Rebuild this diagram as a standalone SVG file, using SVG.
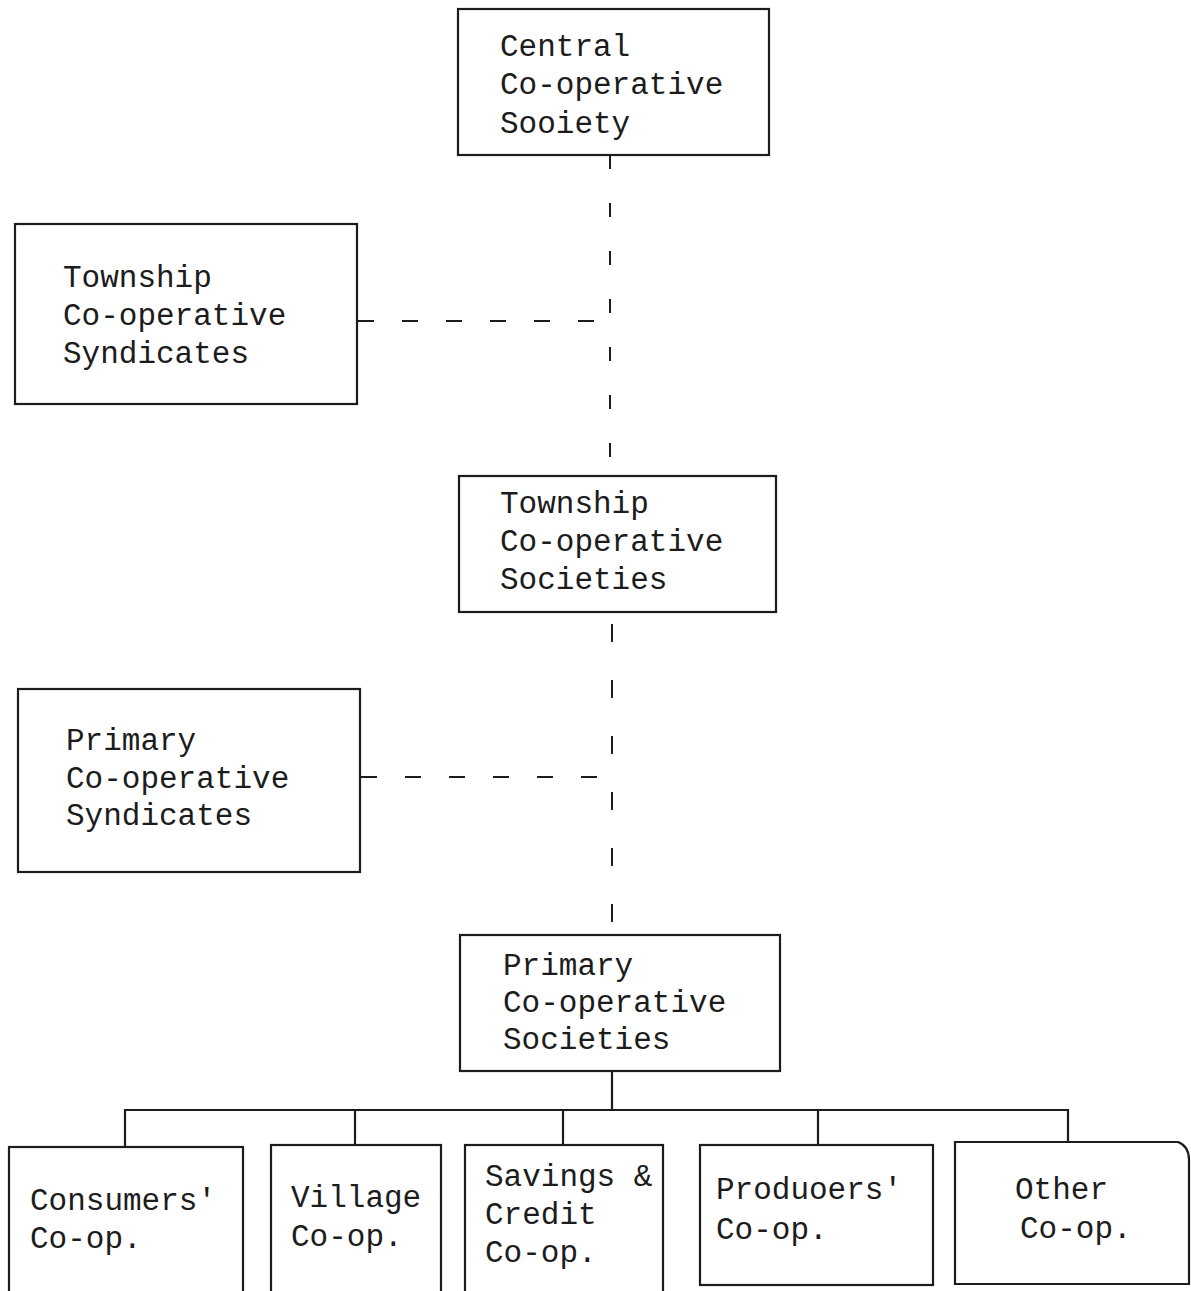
<svg xmlns="http://www.w3.org/2000/svg" width="1191" height="1291" viewBox="0 0 1191 1291">
<style>
.box{fill:none;stroke:#1c1c1c;stroke-width:2.2}
.t{font-family:"Liberation Mono","Courier New",monospace;font-size:31px;fill:#1c1c1c}
.solid{fill:none;stroke:#1c1c1c;stroke-width:2.2}
.dash{fill:none;stroke:#1c1c1c;stroke-width:2}
</style>
<rect width="1191" height="1291" fill="#ffffff"/>
<g id="connectors">
<path class="dash" d="M610 155 V475" stroke-dasharray="14 34"/>
<path class="dash" d="M358 321 H610" stroke-dasharray="16 28"/>
<path class="dash" d="M612 624 V935" stroke-dasharray="18 38"/>
<path class="dash" d="M361 777 H612" stroke-dasharray="16 28"/>
<path class="solid" d="M612 1071 V1109"/>
<path class="solid" d="M125 1147 V1110 H1068 V1142"/>
<path class="solid" d="M355 1110 V1145"/>
<path class="solid" d="M563 1110 V1145"/>
<path class="solid" d="M818 1110 V1145"/>
</g>
<g id="central">
<rect class="box" x="458" y="9" width="311" height="146"/>
<text class="t" x="500" y="56">Central</text>
<text class="t" x="500" y="94">Co-operative</text>
<text class="t" x="500" y="133">Sooiety</text>
</g>
<g id="township-syndicates">
<rect class="box" x="15" y="224" width="342" height="180"/>
<text class="t" x="63" y="287">Township</text>
<text class="t" x="63" y="325">Co-operative</text>
<text class="t" x="63" y="363">Syndicates</text>
</g>
<g id="township-societies">
<rect class="box" x="459" y="476" width="317" height="136"/>
<text class="t" x="500" y="513">Township</text>
<text class="t" x="500" y="551">Co-operative</text>
<text class="t" x="500" y="589">Societies</text>
</g>
<g id="primary-syndicates">
<rect class="box" x="18" y="689" width="342" height="183"/>
<text class="t" x="66" y="750">Primary</text>
<text class="t" x="66" y="788">Co-operative</text>
<text class="t" x="66" y="825">Syndicates</text>
</g>
<g id="primary-societies">
<rect class="box" x="460" y="935" width="320" height="136"/>
<text class="t" x="503" y="975">Primary</text>
<text class="t" x="503" y="1012">Co-operative</text>
<text class="t" x="503" y="1049">Societies</text>
</g>
<g id="consumers">
<rect class="box" x="9" y="1147" width="234" height="150"/>
<text class="t" x="30" y="1210">Consumers'</text>
<text class="t" x="30" y="1248">Co-op.</text>
</g>
<g id="village">
<rect class="box" x="271" y="1145" width="170" height="150"/>
<text class="t" x="291" y="1207">Village</text>
<text class="t" x="291" y="1246">Co-op.</text>
</g>
<g id="savings">
<rect class="box" x="465" y="1145" width="198" height="150"/>
<text class="t" x="485" y="1186">Savings &amp;</text>
<text class="t" x="485" y="1224">Credit</text>
<text class="t" x="485" y="1262">Co-op.</text>
</g>
<g id="producers">
<rect class="box" x="700" y="1145" width="233" height="140"/>
<text class="t" x="716" y="1199">Produoers'</text>
<text class="t" x="716" y="1239">Co-op.</text>
</g>
<g id="other">
<path class="box" d="M955 1284 V1142 H1178 Q1189 1146 1189 1160 V1284 Z" stroke-width="3"/>
<text class="t" x="1015" y="1199">Other</text>
<text class="t" x="1020" y="1238">Co-op.</text>
</g>
</svg>
